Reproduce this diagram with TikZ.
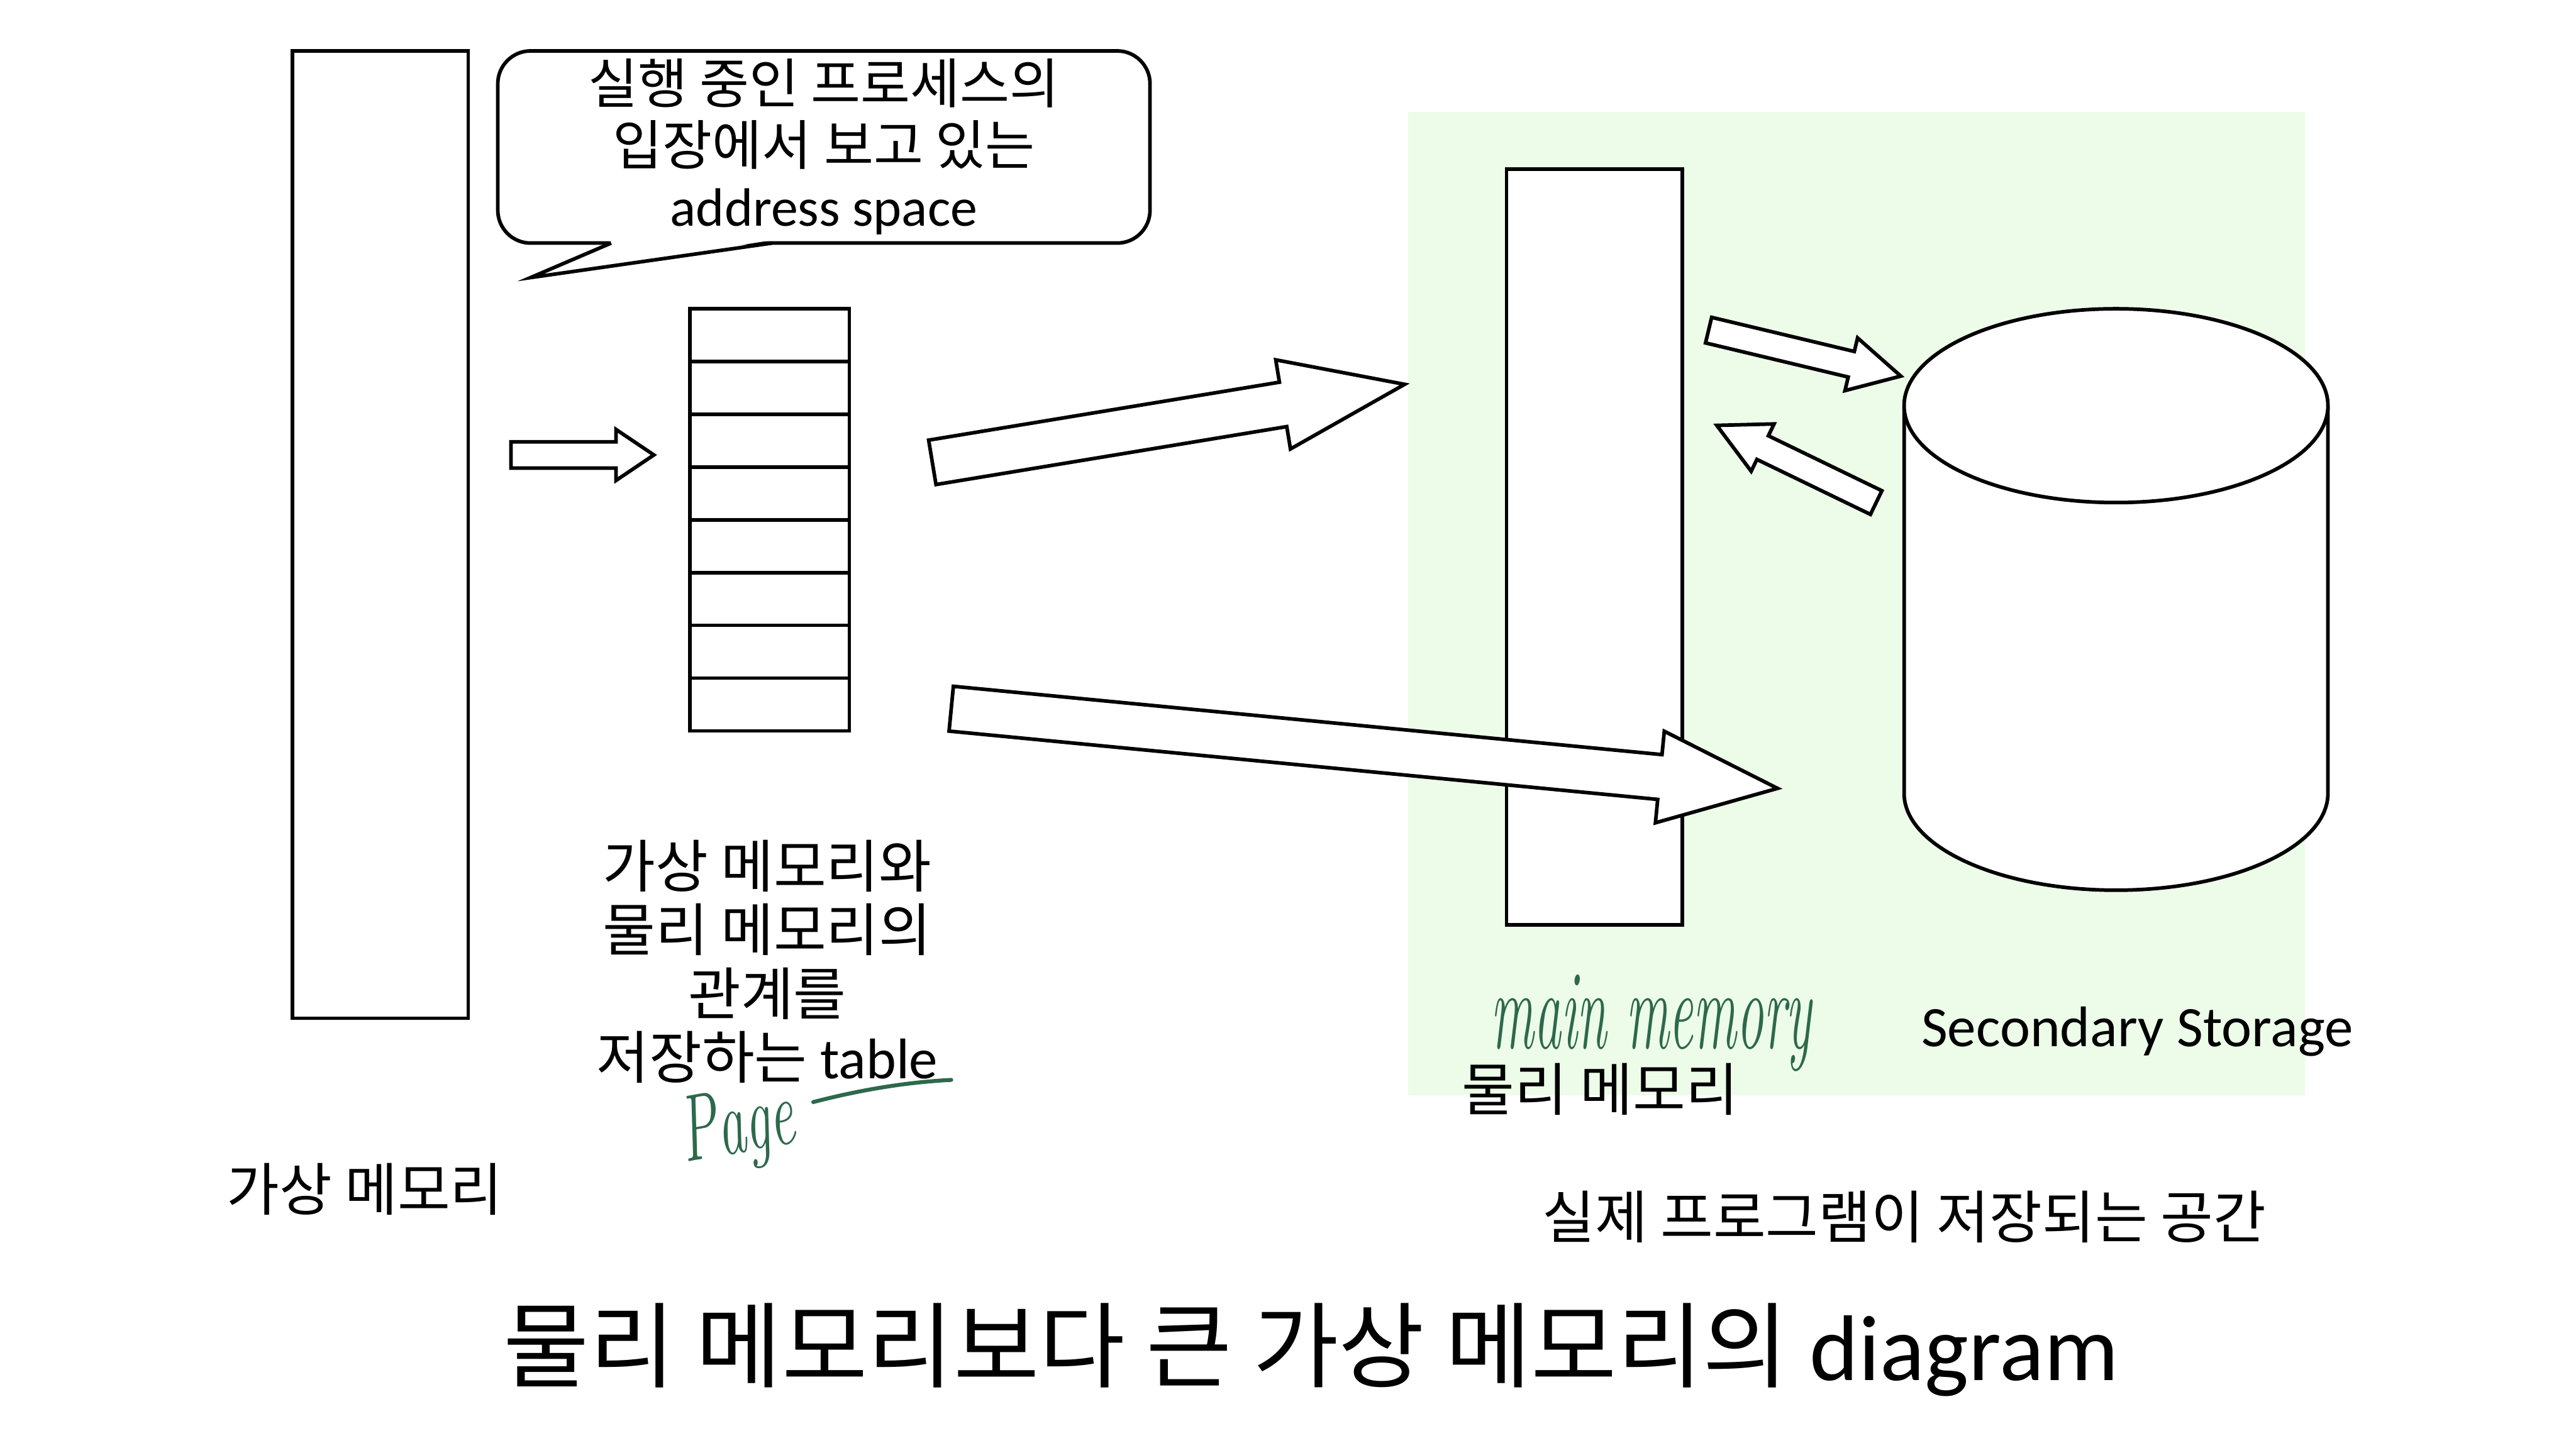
\documentclass[tikz,border=0pt]{standalone}
\usepackage{fontspec}
\setmainfont{Noto Sans CJK KR}
\newfontfamily\lat{Carlito}
\usetikzlibrary{positioning,calc}

\definecolor{memgreen}{RGB}{237,252,233}
\definecolor{ink}{RGB}{45,105,75}

% hollow block arrow: from, to, half shaft, half head, head length
\newcommand\blockarrow[5]{%
  \coordinate (hb) at ($(#2)!#5!(#1)$);
  \draw[fat] ($(#1)!#3!90:(#2)$) -- ($(hb)!#3!90:(#2)$) -- ($(hb)!#4!90:(#2)$)
    -- (#2) -- ($(hb)!#4!-90:(#2)$) -- ($(hb)!#3!-90:(#2)$)
    -- ($(#1)!#3!-90:(#2)$) -- cycle;}

\begin{document}
\begin{tikzpicture}[x=1bp,y=-1bp,
    box/.style={draw,fill=white,line width=2.2bp,inner sep=0pt},
    fat/.style={draw,fill=white,line width=2.2bp,line join=miter},
    lbl/.style={font=\fontsize{35}{39}\selectfont,align=center,inner sep=0pt},
    hand/.style={text=ink,inner sep=0pt,
      font=\fontfamily{lmr}\fontshape{it}\fontsize{34}{34}\selectfont}]
  \useasboundingbox (0,0) rectangle (1568,871);
  \fill[memgreen] (857,68) rectangle (1403,667);

  % virtual memory
  \node[box,minimum width=107bp,minimum height=589bp] (vmem) at (231.5,325.5) {};
  \node[lbl] (vlabel) at (222,724) {가상 메모리};

  % speech bubble
  \node[box,rounded corners=20bp,minimum width=397bp,minimum height=117bp,
    align=center,font=\fontsize{33}{37.5}\selectfont] (bubble) at (501.5,89.5)
    {실행 중인 프로세스의\\입장에서 보고 있는\\{\lat address space}};
  \coordinate (tip) at (323,169);
  \fill[white] (373,146.4) -- (tip) -- (469,146.4) -- cycle;
  \draw[line width=2.2bp] (372,148) -- (tip) -- (470,148);

  % page table
  \foreach \i in {0,...,7}
    \node[box,minimum width=97bp,minimum height=32.125bp] (row\i)
      at (468.5,204.06+32.125*\i) {};
  \node[lbl] (tlabel) at (467,585.5)
    {가상 메모리와\\물리 메모리의\\관계를\\저장하는 {\lat table}};
  \node[hand,rotate=10,yscale=1.7] (pagenote) at (449,688) {Page};
  \draw[ink,line width=2.4bp,line cap=round] (495,671) .. controls (522,664) and (550,659) .. (579,657.5);

  % physical memory
  \node[box,minimum width=107bp,minimum height=460bp] (pmem) at (970.5,333) {};
  \node[lbl] (plabel) at (974,663) {물리 메모리};
  \node[hand,yscale=2.1,font=\fontfamily{lmr}\fontshape{it}\fontsize{33}{33}\selectfont]
    (mainnote) at (1005,623) {main memory};

  % secondary storage
  \fill[white] (1159,247) -- (1159,483) arc[start angle=180,end angle=360,x radius=129bp,y radius=59bp]
    -- (1417,247) -- cycle;
  \draw[line width=2.2bp] (1159,247) -- (1159,483)
    arc[start angle=180,end angle=360,x radius=129bp,y radius=59bp] -- (1417,247);
  \draw[line width=2.2bp,fill=white] (1288,247) ellipse [x radius=129bp,y radius=59bp];
  \node[lbl,font=\lat\fontsize{35}{39}\selectfont] (slabel) at (1301,628) {Secondary Storage};
  \node[lbl] (rlabel) at (1159,741) {실제 프로그램이 저장되는 공간};

  % arrows
  \coordinate (a1s) at (311,277);     \coordinate (a1e) at (398,277);
  \coordinate (a2s) at (567.5,281.5); \coordinate (a2e) at (855,234);
  \coordinate (a3s) at (579,431.5);   \coordinate (a3e) at (1082,480);
  \coordinate (a4s) at (1040,201);    \coordinate (a4e) at (1157,229);
  \coordinate (a5s) at (1142,306);    \coordinate (a5e) at (1045,259);
  \blockarrow{a1s}{a1e}{8bp}{15.5bp}{23bp}
  \blockarrow{a2s}{a2e}{13.7bp}{27.5bp}{75bp}
  \blockarrow{a3s}{a3e}{13.7bp}{28bp}{72bp}
  \blockarrow{a4s}{a4e}{8bp}{16.5bp}{31bp}
  \blockarrow{a5s}{a5e}{8bp}{16bp}{31bp}

  \node[inner sep=0pt,font=\fontsize{57}{57}\selectfont] (title) at (798,822)
    {물리 메모리보다 큰 가상 메모리의 {\lat diagram}};
\end{tikzpicture}
\end{document}
